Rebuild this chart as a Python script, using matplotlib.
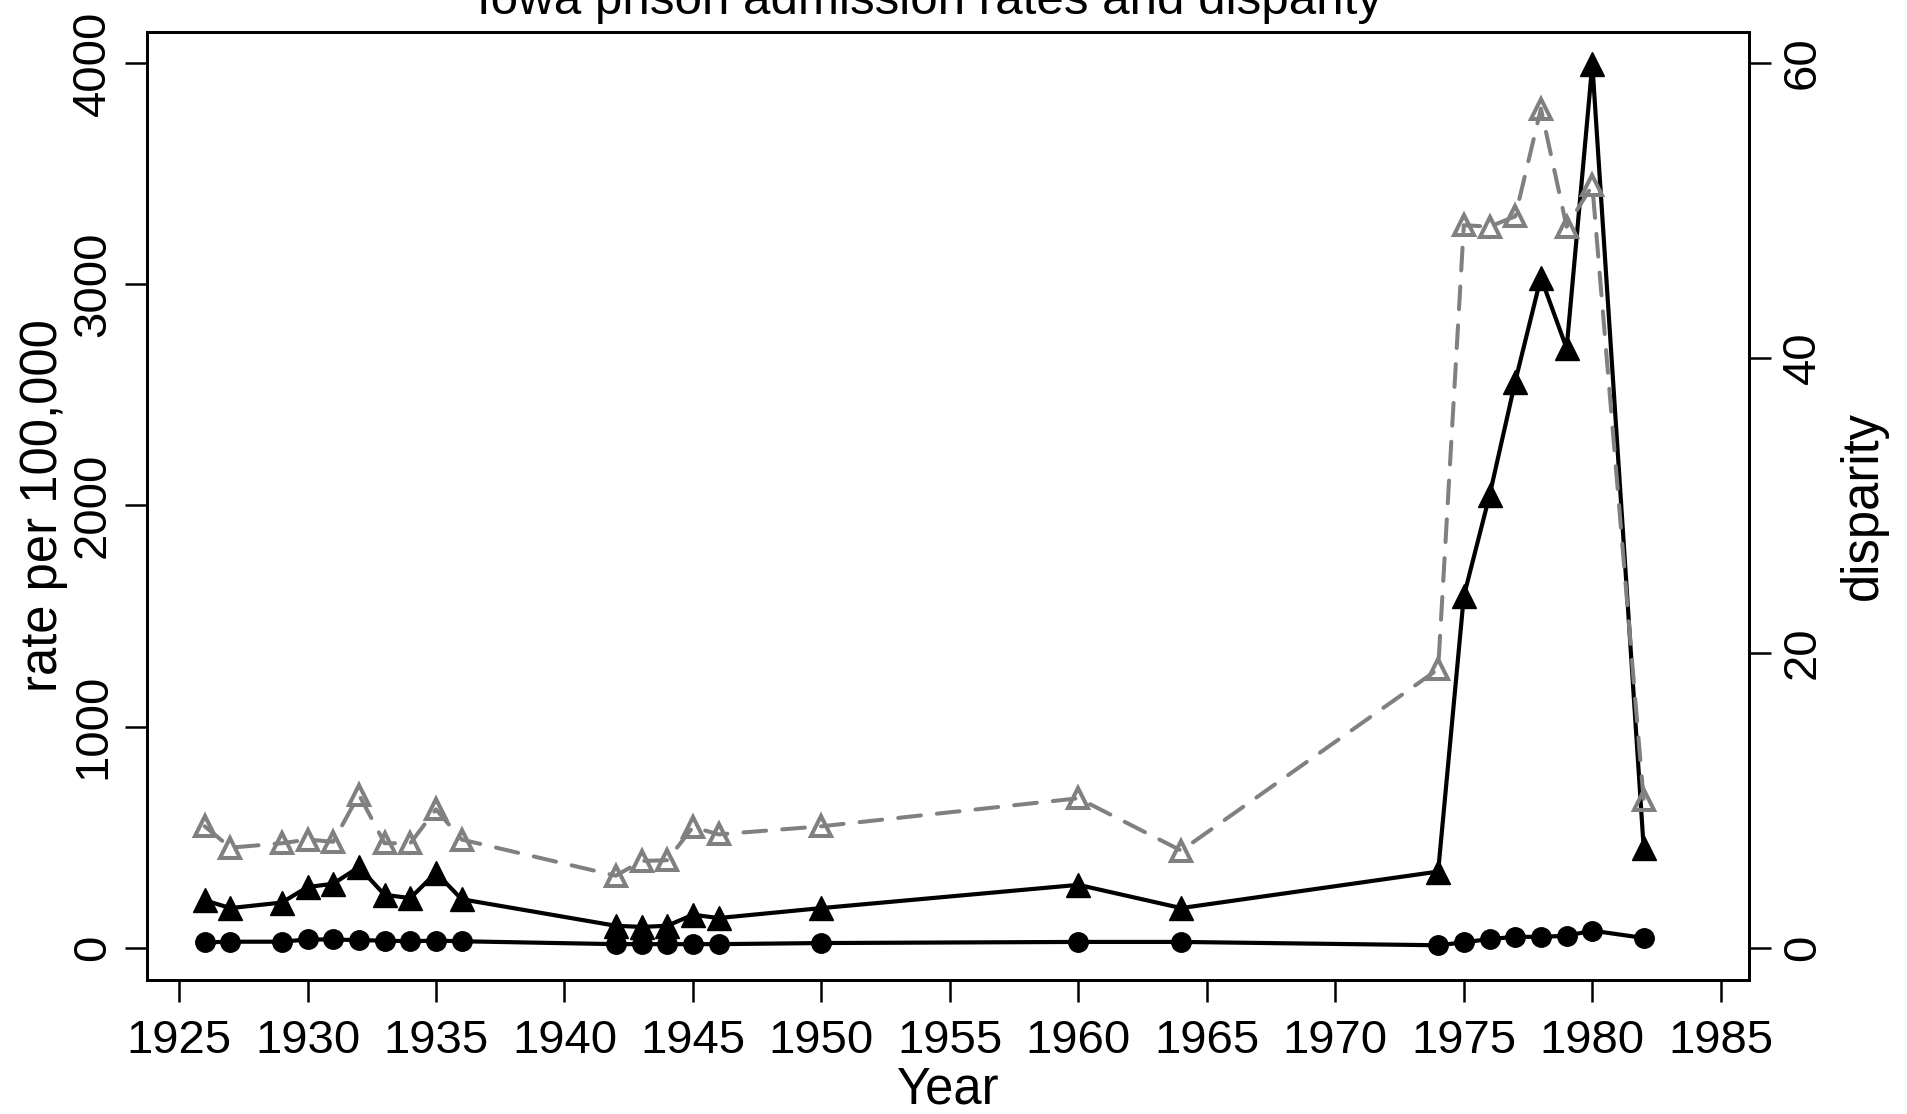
import matplotlib
matplotlib.use("Agg")
import matplotlib.pyplot as plt

plt.rcParams['font.family'] = ['Liberation Sans', 'DejaVu Sans']

# data
years = [1926, 1927, 1929, 1930, 1931, 1932, 1933, 1934, 1935, 1936,
         1942, 1943, 1944, 1945, 1946, 1950, 1960, 1964,
         1974, 1975, 1976, 1977, 1978, 1979, 1980, 1982]
black_rate = [215, 180, 205, 275, 290, 365, 240, 225, 340, 220,
              100, 95, 100, 150, 135, 180, 285, 180,
              345, 1590, 2045, 2560, 3030, 2710, 3995, 450]
white_rate = [25, 28, 28, 38, 38, 35, 33, 30, 33, 30,
              17, 17, 17, 17, 17, 22, 27, 27,
              12, 25, 40, 50, 50, 55, 78, 45]
disparity = [8.25, 6.8, 7.1, 7.35, 7.2, 10.4, 7.1, 7.1, 9.4, 7.35,
             4.9, 5.9, 5.95, 8.2, 7.7, 8.25, 10.15, 6.6,
             18.9, 49.0, 48.9, 49.6, 56.9, 48.9, 51.7, 10.0]

fig = plt.figure(figsize=(19.08, 11.14), dpi=100)
ax = fig.add_axes([0.077, 0.1203, 0.8397, 0.851])

ax.plot(years, black_rate, color='black', lw=3.0, marker='^', markersize=17, mew=1)
ax.plot(years, white_rate, color='black', lw=3.0, marker='o', markersize=14)
ax.set_xlim(1923.75, 1986.1)
ax.set_ylim(-145, 4140)
ax.set_xticks(range(1925, 1990, 5))
ax.set_yticks([0, 1000, 2000, 3000, 4000])

ax2 = ax.twinx()
ax2.plot(years, disparity, color='#808080', lw=2.9, dashes=(5.65, 4.0),
         dash_capstyle='round', marker='^', markersize=15, mfc='none',
         mec='#808080', mew=2.9)
ax2.set_ylim(-2.17, 62.1)
ax2.set_yticks([0, 20, 40, 60])

for a in (ax, ax2):
    for s in a.spines.values():
        s.set_linewidth(2)
    a.tick_params(direction='out', length=16, width=1.8, labelsize=34, pad=7)
ax.tick_params(axis='x', pad=12)
for lab in ax.get_yticklabels() + ax2.get_yticklabels():
    lab.set_rotation(90)
    lab.set_va('center')

ax.set_xlabel('Year', fontsize=36.5, labelpad=2)
ax.set_ylabel('rate per 100,000', fontsize=36.5, labelpad=2)
ax2.set_ylabel('disparity', fontsize=36.5, labelpad=10)

# title sits partly above the top edge, as in the original
fig.text(0.4874, 1 - 14 / 1114, 'Iowa prison admission rates and disparity',
         ha='center', va='baseline', fontsize=35.5)

fig.savefig('out.png', dpi=100)
